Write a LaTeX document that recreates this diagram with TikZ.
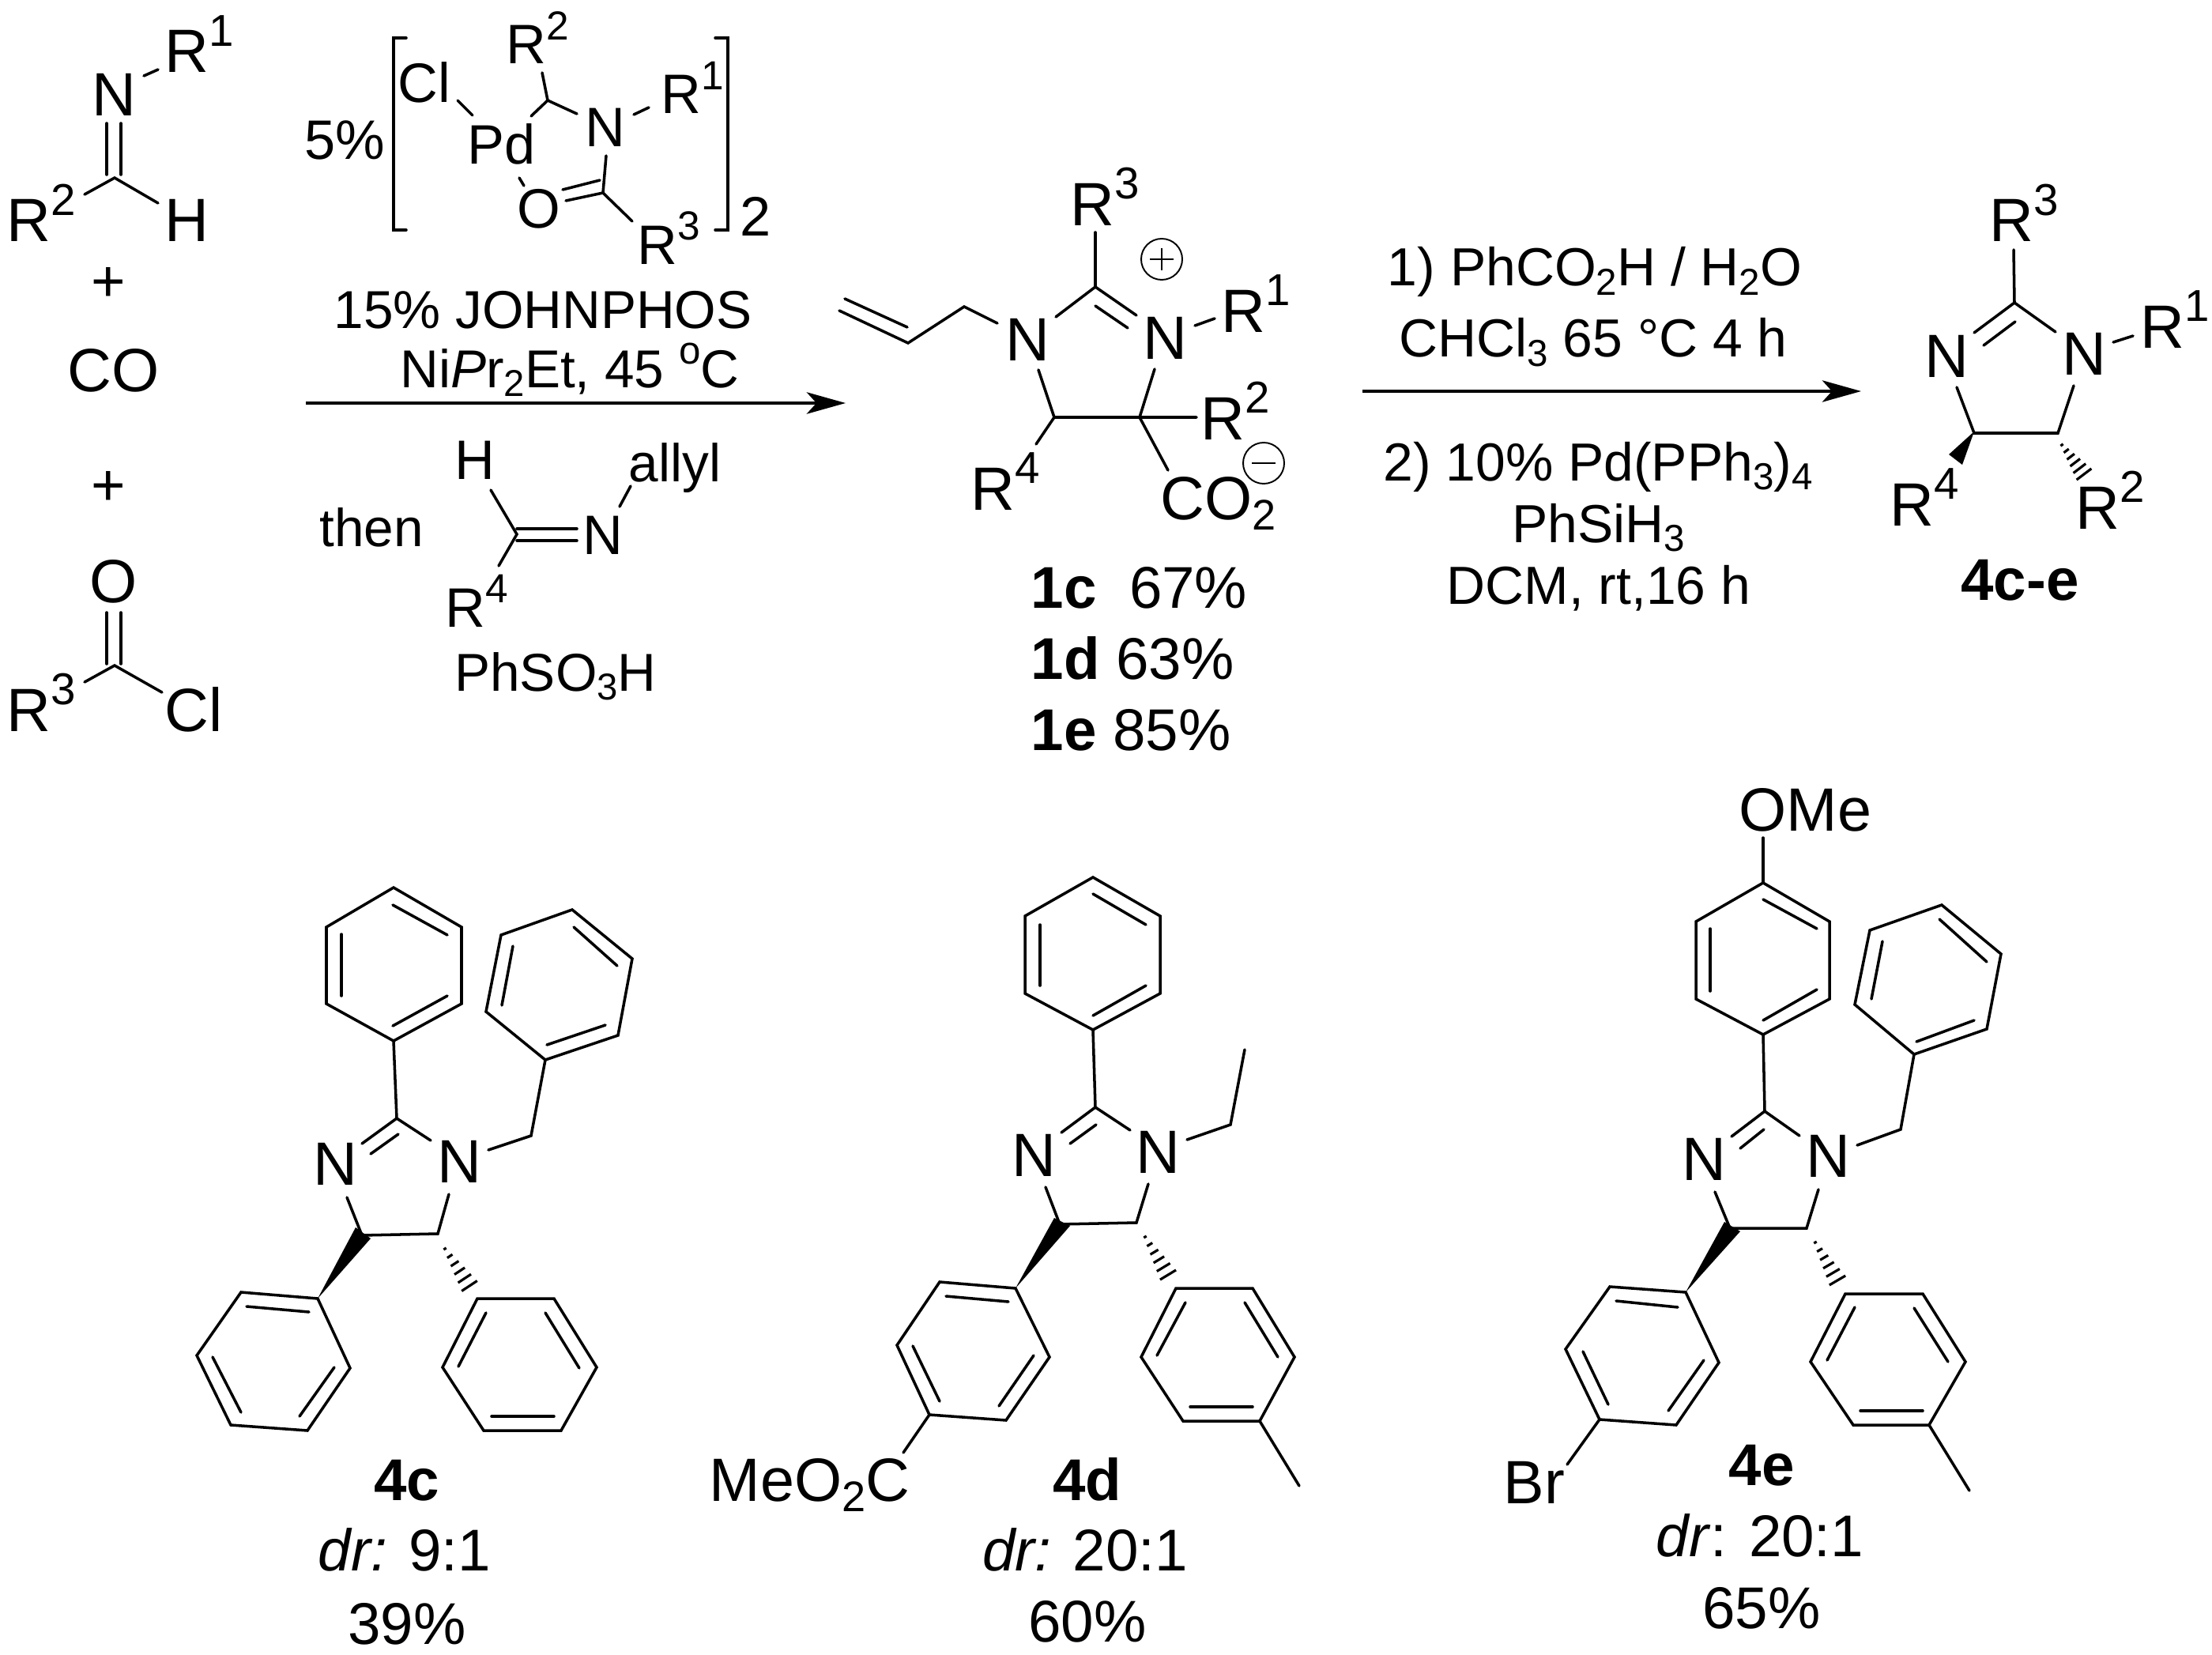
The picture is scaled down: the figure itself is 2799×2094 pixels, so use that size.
\documentclass[tikz,border=0pt]{standalone}
\usepackage{fontspec}
\setmainfont{Liberation Sans}
\usetikzlibrary{arrows.meta,calc}
\newcommand\fontL{\fontsize{21.2}{24}\selectfont}
\newcommand\fontR{\fontsize{19.3}{22}\selectfont}
\newcommand\fontS{\fontsize{19.2}{22}\selectfont}
\newcommand\fontA{\fontsize{22}{25}\selectfont}
\newcommand\fontC{\fontsize{20}{23}\selectfont}
\newcommand\up[1]{\raisebox{.43em}{\scalebox{.73}{#1}}}
\newcommand\dn[1]{\raisebox{-.17em}{\scalebox{.7}{#1}}}
\tikzset{
  bond/.style={line width=1pt,line join=miter,line cap=round},
  thinb/.style={line width=.55pt},
  wedgeb/.style={fill=black,draw=none},
  rxn/.style={line width=1pt,-{Stealth[length=14pt,width=7.8pt,inset=3.5pt]}},
  tl/.style={inner sep=0pt,anchor=base,font=\fontL},
  tr/.style={inner sep=0pt,anchor=base,font=\fontR},
  ts/.style={inner sep=0pt,anchor=base,font=\fontS},
  ta/.style={inner sep=0pt,anchor=base,font=\fontA},
  taw/.style={inner sep=0pt,anchor=base west,font=\fontA},
  tlw/.style={inner sep=0pt,anchor=base west,font=\fontL},
  tc/.style={inner sep=0pt,anchor=base,font=\fontC},
  tcw/.style={inner sep=0pt,anchor=base west,font=\fontC},
}
% hashed bond: from start to end, widening
\newcommand\hashb[2]{%
  \coordinate (hfar) at ($#1!2!#2$);
  \foreach \i in {0,1,2,3,4,5}{%
    \pgfmathsetmacro\tt{\i/5}%
    \pgfmathsetmacro\ww{(2+1.95*\i)*0.2845}%
    \coordinate (hp) at ($#1!\tt!#2$);
    \draw[line width=.9pt] ($(hp)!\ww pt!90:(hfar)$) -- ($(hp)!\ww pt!-90:(hfar)$);
  }%
}
\begin{document}
\begin{tikzpicture}[x=0.01cm,y=-0.01cm]
\useasboundingbox (0,0) rectangle (2799,2094);
\fill[white] (0,0) rectangle (2799,2094);

% ---- imine
\node[ta] (iN) at (144,147) {N};
\node[taw] (iR1) at (208,92) {R\up{1}};
\node[taw] (iR2) at (8,306) {R\up{2}};
\node[ta] (iH) at (236,306) {H};
\draw[bond] (182,96) -- (200,88);
\draw[bond] (135,156) -- (135,221);
\draw[bond] (153,156) -- (153,221);
\draw[bond] (107,246) -- (145,225) -- (200,257);
\node[tl] (p1) at (137,382) {+};
\node[ta] (co) at (144,495) {CO};
\node[tl] (p2) at (137,639) {+};
% ---- acid chloride
\node[ta] (aO) at (144,762) {O};
\node[taw] (aR3) at (8,925) {R\up{3}};
\node[ta] (aCl) at (245,925) {Cl};
\draw[bond] (135,775) -- (135,840);
\draw[bond] (153,775) -- (153,840);
\draw[bond] (107,863) -- (145,842) -- (205,876);

% ---- catalyst
\node[tc] (c5) at (436,202) {5\%};
\draw[bond] (514,48) -- (498,48) -- (498,291) -- (514,291);
\draw[bond] (905,48) -- (921,48) -- (921,291) -- (905,291);
\node[tc] (c2) at (956,298) {2};
\node[tc] (cCl) at (537,130) {Cl};
\node[tc] (cPd) at (635,208) {Pd};
\node[tcw] (cR2) at (640,81) {R\up{2}};
\node[tc] (cN) at (766,186) {N};
\node[tcw] (cR1) at (836,144) {R\up{1}};
\node[tc] (cO) at (682,288) {O};
\node[tcw] (cR3) at (806,334) {R\up{3}};
\draw[bond] (579,127) -- (598,146);
\draw[bond] (686,92) -- (693,127);
\draw[bond] (672,147) -- (693,127) -- (730,144);
\draw[bond] (802,145) -- (821,136);
\draw[bond] (767,197) -- (763,244) -- (800,280);
\draw[bond] (712,240) -- (759,228);
\draw[bond] (716,254) -- (763,244);
\draw[bond] (657,225) -- (663,235);

\node[ts] (john) at (687,416) {15\% JOHNPHOS};
\node[ts] (nipr) at (721,490) {Ni\textit{P}r\dn{2}Et, 45 \up{o}C};
\coordinate (a1s) at (387,510);
\coordinate (a1e) at (1070,510);
\draw[rxn] (a1s) -- (a1e);

\node[ts] (then) at (470,691) {then};
\node[tc] (tH) at (601,606) {H};
\node[tc] (tN) at (763,701) {N};
\node[ts] (tallyl) at (854,609) {allyl};
\node[tcw] (tR4) at (563,793) {R\up{4}};
\draw[bond] (621,620) -- (654,676) -- (631,716);
\draw[bond] (654,669) -- (730,669);
\draw[bond] (654,684) -- (730,684);
\draw[bond] (784,641) -- (798,615);
\node[ts] (tacid) at (703,874) {PhSO\dn{3}H};

% ---- 1c
\node[taw] (mR3) at (1354,285) {R\up{3}};
\draw[bond] (1386,294) -- (1386,363);
\draw[bond] (1336,401) -- (1386,363) -- (1438,399);
\draw[bond] (1386,387) -- (1427,415);
\node[ta] (mN1) at (1300,456) {N};
\node[ta] (mN2) at (1474,454) {N};
\node[taw] (mR1) at (1545,420) {R\up{1}};
\draw[bond] (1512,412) -- (1537,403);
\draw[bond] (1069,378) -- (1148,414);
\draw[bond] (1062,393) -- (1149,434) -- (1220,388) -- (1262,409);
\draw[bond] (1314,468) -- (1334,528) -- (1514,528);
\draw[bond] (1461,467) -- (1442,528) -- (1478,595);
\draw[bond] (1334,528) -- (1311,562);
\node[taw] (mR2) at (1519,556) {R\up{2}};
\node[taw] (mR4) at (1228,645) {R\up{4}};
\node[taw] (mCO) at (1468,657) {CO\dn{2}};
\draw[thinb] (1470,328) circle (26);
\draw[thinb] (1455,328) -- (1485,328);
\draw[thinb] (1470,314) -- (1470,342);
\draw[thinb] (1599,586) circle (26);
\draw[thinb] (1584,586) -- (1614,586);
\node[tlw] (y1c) at (1304,769) {\textbf{1c}\ \ 67\%};
\node[tlw] (y1d) at (1304,859) {\textbf{1d} 63\%};
\node[tlw] (y1e) at (1304,949) {\textbf{1e} 85\%};

% ---- second arrow
\coordinate (a2s) at (1724,495);
\coordinate (a2e) at (2355,495);
\draw[rxn] (a2s) -- (a2e);
\node[tr] (r1) at (2018,362) {1) PhCO\dn{2}H / H\dn{2}O};
\node[tr] (r2) at (2016,452) {CHCl\dn{3} 65 °C 4 h};
\node[tr] (r3) at (2022,608) {2) 10\% Pd(PPh\dn{3})\dn{4}};
\node[tr] (r4) at (2023,686) {PhSiH\dn{3}};
\node[tr] (r5) at (2023,764) {DCM, rt,16 h};

% ---- 4c-e general
\node[taw] (gR3) at (2517,306) {R\up{3}};
\draw[bond] (2548,316) -- (2549,383);
\draw[bond] (2498,421) -- (2549,383) -- (2601,420);
\draw[bond] (2510,437) -- (2550,407);
\node[ta] (gN1) at (2463,477) {N};
\node[ta] (gN2) at (2637,475) {N};
\node[taw] (gR1) at (2708,440) {R\up{1}};
\draw[bond] (2674,433) -- (2699,425);
\draw[bond] (2476,490) -- (2498,548) -- (2604,548) -- (2624,488);
\fill[wedgeb] (2498,546) -- (2466,575) -- (2483,588) -- cycle;
\hashb{(2609,563)}{(2637,600)}
\node[taw] (gR4) at (2391,665) {R\up{4}};
\node[taw] (gR2) at (2626,669) {R\up{2}};
\node[tl] (glab) at (2556,759) {\textbf{4c-e}};

% ---- 4c
\draw[bond] (498,1123) -- (584,1173) -- (584,1270) -- (498,1317) -- (413,1270) -- (413,1173) -- cycle;
\draw[bond] (497,1145) -- (566,1183);
\draw[bond] (432,1182) -- (432,1260);
\draw[bond] (497,1298) -- (566,1260);
\draw[bond] (498,1317) -- (502,1415);
\draw[bond] (458,1447) -- (502,1415) -- (545,1443);
\draw[bond] (469,1460) -- (504,1435);
\node[ta] (cN1) at (424,1499) {N};
\node[ta] (cN2) at (581,1496) {N};
\draw[bond] (439,1515) -- (458,1563) -- (554,1561) -- (568,1511);
\draw[bond] (618,1455) -- (672,1437) -- (690,1341);
\draw[bond] (690,1341) -- (782,1310) -- (800,1213) -- (724,1151) -- (634,1183) -- (615,1280) -- cycle;
\draw[bond] (692,1322) -- (766,1297);
\draw[bond] (781,1222) -- (726,1173);
\draw[bond] (635,1272) -- (649,1197);
\fill[wedgeb] (402,1643) -- (450,1553) -- (469,1567) -- cycle;
\draw[bond] (402,1643) -- (443,1731) -- (389,1810) -- (292,1803) -- (249,1715) -- (305,1635) -- cycle;
\draw[bond] (391,1660) -- (312,1653);
\draw[bond] (269,1717) -- (305,1787);
\draw[bond] (379,1792) -- (423,1730);
\hashb{(563,1580)}{(594,1627)}
\draw[bond] (604,1643) -- (701,1643) -- (755,1730) -- (710,1810) -- (612,1810) -- (560,1730) -- cycle;
\draw[bond] (615,1661) -- (580,1729);
\draw[bond] (690,1661) -- (733,1731);
\draw[bond] (622,1792) -- (701,1792);
\node[tl] (l4c) at (515,1898) {\textbf{4c}};
\node[tl] (d4c) at (512,1987) {\textit{dr:} 9:1};
\node[tl] (p4c) at (515,2080) {39\%};

% ---- 4d
\draw[bond] (1383,1110) -- (1468,1159) -- (1468,1257) -- (1383,1303) -- (1297,1257) -- (1297,1159) -- cycle;
\draw[bond] (1383,1131) -- (1450,1170);
\draw[bond] (1316,1170) -- (1316,1247);
\draw[bond] (1383,1285) -- (1450,1247);
\draw[bond] (1383,1303) -- (1386,1401);
\draw[bond] (1343,1433) -- (1386,1401) -- (1430,1430);
\draw[bond] (1354,1447) -- (1387,1423);
\node[ta] (dN1) at (1308,1488) {N};
\node[ta] (dN2) at (1465,1484) {N};
\draw[bond] (1323,1502) -- (1341,1549) -- (1438,1547) -- (1453,1498);
\draw[bond] (1502,1442) -- (1557,1423) -- (1575,1328);
\fill[wedgeb] (1285,1630) -- (1334,1541) -- (1354,1551) -- cycle;
\draw[bond] (1285,1630) -- (1328,1717) -- (1273,1797) -- (1176,1790) -- (1135,1702) -- (1189,1622) -- cycle;
\draw[bond] (1276,1647) -- (1197,1640);
\draw[bond] (1155,1703) -- (1189,1773);
\draw[bond] (1264,1779) -- (1308,1715);
\draw[bond] (1176,1790) -- (1143,1838);
\node[taw] (dMe) at (897,1899) {MeO\dn{2}C};
\hashb{(1449,1565)}{(1478,1613)}
\draw[bond] (1488,1630) -- (1585,1630) -- (1638,1717) -- (1594,1798) -- (1497,1798) -- (1444,1717) -- cycle;
\draw[bond] (1500,1648) -- (1464,1715);
\draw[bond] (1575,1648) -- (1617,1717);
\draw[bond] (1506,1780) -- (1585,1780);
\draw[bond] (1594,1798) -- (1644,1880);
\node[tl] (l4d) at (1376,1898) {\textbf{4d}};
\node[tl] (d4d) at (1373,1987) {\textit{dr:} 20:1};
\node[tl] (p4d) at (1376,2077) {60\%};

% ---- 4e
\node[taw] (eOMe) at (2200,1051) {OMe};
\draw[bond] (2231,1060) -- (2231,1117);
\draw[bond] (2231,1117) -- (2315,1166) -- (2315,1264) -- (2231,1309) -- (2146,1264) -- (2146,1166) -- cycle;
\draw[bond] (2231,1138) -- (2299,1175);
\draw[bond] (2164,1175) -- (2164,1254);
\draw[bond] (2231,1291) -- (2299,1252);
\draw[bond] (2231,1309) -- (2233,1406);
\draw[bond] (2191,1438) -- (2233,1406) -- (2277,1437);
\draw[bond] (2202,1453) -- (2232,1429);
\node[ta] (eN1) at (2156,1493) {N};
\node[ta] (eN2) at (2313,1489) {N};
\draw[bond] (2170,1508) -- (2189,1554) -- (2286,1554) -- (2301,1505);
\draw[bond] (2350,1449) -- (2405,1429) -- (2422,1334);
\draw[bond] (2422,1334) -- (2514,1302) -- (2532,1207) -- (2457,1145) -- (2366,1177) -- (2347,1271) -- cycle;
\draw[bond] (2425,1318) -- (2498,1291);
\draw[bond] (2514,1217) -- (2454,1163);
\draw[bond] (2368,1264) -- (2382,1191);
\fill[wedgeb] (2133,1635) -- (2182,1546) -- (2202,1558) -- cycle;
\draw[bond] (2133,1635) -- (2175,1724) -- (2121,1803) -- (2024,1796) -- (1981,1707) -- (2037,1628) -- cycle;
\draw[bond] (2123,1654) -- (2045,1646);
\draw[bond] (2003,1710) -- (2035,1777);
\draw[bond] (2111,1785) -- (2156,1721);
\draw[bond] (2024,1796) -- (1983,1853);
\node[taw] (eBr) at (1902,1902) {Br};
\hashb{(2297,1572)}{(2325,1620)}
\draw[bond] (2335,1637) -- (2433,1637) -- (2487,1723) -- (2441,1803) -- (2345,1803) -- (2291,1723) -- cycle;
\draw[bond] (2347,1654) -- (2312,1721);
\draw[bond] (2422,1655) -- (2465,1723);
\draw[bond] (2354,1785) -- (2433,1785);
\draw[bond] (2441,1803) -- (2492,1886);
\node[tl] (l4e) at (2229,1879) {\textbf{4e}};
\node[tl] (d4e) at (2227,1969) {\textit{dr}: 20:1};
\node[tl] (p4e) at (2229,2060) {65\%};
\end{tikzpicture}
\end{document}
